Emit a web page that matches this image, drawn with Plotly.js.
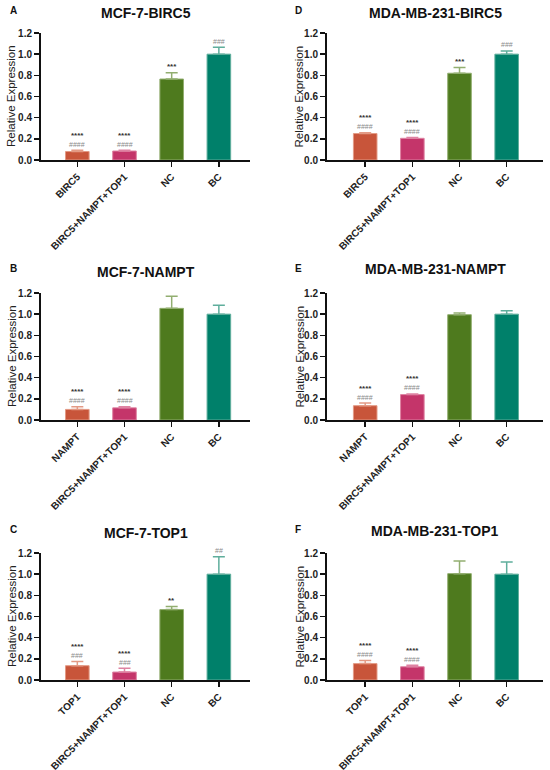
<!DOCTYPE html>
<html>
<head>
<meta charset="utf-8">
<script src="https://cdn.plot.ly/plotly-3.0.1.min.js"></script>
<style>html,body{margin:0;padding:0;background:#fff;}#chart{width:550px;height:770px;}</style>
</head>
<body>
<div id="chart"></div>
<script>
// ---- data ----
const panelLetters = ['A', 'B', 'C', 'D', 'E', 'F'];
const panelTitles = ['MCF-7-BIRC5', 'MCF-7-NAMPT', 'MCF-7-TOP1', 'MDA-MB-231-BIRC5', 'MDA-MB-231-NAMPT', 'MDA-MB-231-TOP1'];

const categoriesA = ['BIRC5', 'BIRC5+NAMPT+TOP1', 'NC', 'BC'];
const categoriesB = ['NAMPT', 'BIRC5+NAMPT+TOP1', 'NC', 'BC'];
const categoriesC = ['TOP1', 'BIRC5+NAMPT+TOP1', 'NC', 'BC'];
const categoriesD = ['BIRC5', 'BIRC5+NAMPT+TOP1', 'NC', 'BC'];
const categoriesE = ['NAMPT', 'BIRC5+NAMPT+TOP1', 'NC', 'BC'];
const categoriesF = ['TOP1', 'BIRC5+NAMPT+TOP1', 'NC', 'BC'];

const valuesA = [0.08, 0.085, 0.765, 1.0];
const valuesB = [0.10, 0.115, 1.055, 1.0];
const valuesC = [0.135, 0.075, 0.665, 1.0];
const valuesD = [0.25, 0.205, 0.82, 1.0];
const valuesE = [0.135, 0.24, 0.995, 1.0];
const valuesF = [0.155, 0.125, 1.005, 1.0];

const errorsA = [0.012, 0.008, 0.06, 0.065];
const errorsB = [0.025, 0.01, 0.115, 0.085];
const errorsC = [0.04, 0.035, 0.03, 0.165];
const errorsD = [0.008, 0.008, 0.055, 0.03];
const errorsE = [0.025, 0.006, 0.015, 0.032];
const errorsF = [0.03, 0.015, 0.12, 0.115];

const starsA = ['****', '****', '***', ''];
const starsB = ['****', '****', '', ''];
const starsC = ['****', '****', '**', ''];
const starsD = ['****', '****', '***', ''];
const starsE = ['****', '****', '', ''];
const starsF = ['****', '****', '', ''];

const hashesA = ['####', '####', '', '###'];
const hashesB = ['####', '####', '', ''];
const hashesC = ['###', '###', '', '##'];
const hashesD = ['####', '####', '', '###'];
const hashesE = ['####', '####', '', ''];
const hashesF = ['####', '####', '', ''];

const yTickVals = [0, 0.2, 0.4, 0.6, 0.8, 1.0, 1.2];
const yTickText = ['0.0', '0.2', '0.4', '0.6', '0.8', '1.0', '1.2'];
const yAxisLabel = 'Relative Expression';

// ---- styles ----
const barColors = ['#C8553A', '#C4356A', '#4E7A1E', '#00806A'];
const lightColors = ['#E39A85', '#DE82A2', '#92AE70', '#5FAE9C'];

const categories = [categoriesA, categoriesB, categoriesC, categoriesD, categoriesE, categoriesF];
const values = [valuesA, valuesB, valuesC, valuesD, valuesE, valuesF];
const errors = [errorsA, errorsB, errorsC, errorsD, errorsE, errorsF];
const stars = [starsA, starsB, starsC, starsD, starsE, starsF];
const hashes = [hashesA, hashesB, hashesC, hashesD, hashesE, hashesF];

const W = 550, H = 770;
const colX = [[41, 250], [327, 543]];
const colRange = [[-0.77, 3.66], [-0.81, 3.77]];
const rowY = [[33, 160], [293, 420], [553, 680]];
const titleY = [[13, 272, 533], [13, 269, 531]];
const letterY = [10, 269, 529];
const letterX = [8, 293];
const yTitleX = [11.5, 299];

const font = 'Liberation Sans, Arial, sans-serif';
const traces = [];
const annotations = [];
const layout = {
  width: W, height: H,
  margin: {l: 0, r: 0, t: 0, b: 0},
  paper_bgcolor: '#fff', plot_bgcolor: '#fff',
  showlegend: false,
  font: {family: font, color: '#222'}
};

for (let p = 0; p < 6; p++) {
  const col = p < 3 ? 0 : 1;
  const row = p % 3;
  const ax = p === 0 ? '' : String(p + 1);
  const xa = 'x' + ax, ya = 'y' + ax;
  for (let i = 0; i < 4; i++) {
    traces.push({
      type: 'bar',
      x: [categories[p][i]],
      y: [values[p][i]],
      xaxis: xa, yaxis: ya,
      width: 0.5,
      marker: {color: barColors[i], line: {color: lightColors[i], width: 1}},
      error_y: {type: 'data', array: [errors[p][i]], symmetric: false, arrayminus: [0],
                color: lightColors[i], thickness: 1.5, width: 6},
      hoverinfo: 'x+y'
    });
    const top = values[p][i] + errors[p][i];
    if (hashes[p][i]) {
      annotations.push({xref: xa, yref: ya, x: categories[p][i], y: top, yanchor: 'middle',
        yshift: 6, text: hashes[p][i], showarrow: false, font: {size: 7, color: '#8a8a8a', family: font}});
    }
    if (stars[p][i]) {
      annotations.push({xref: xa, yref: ya, x: categories[p][i], y: top, yanchor: 'middle',
        yshift: hashes[p][i] ? 15 : 6, text: stars[p][i], showarrow: false,
        font: {size: 8, color: '#333', family: font, weight: 'bold'}});
    }
  }
  const [x0, x1] = colX[col];
  const [y0, y1] = rowY[row];
  layout['xaxis' + ax] = {
    domain: [x0 / W, x1 / W], anchor: ya,
    type: 'category', range: colRange[col],
    showline: true, linecolor: '#111', linewidth: 2,
    ticks: 'outside', ticklen: 5, tickwidth: 1.5, tickcolor: '#111',
    tickangle: -45, tickfont: {size: 10, family: font, color: '#222', weight: 'bold'},
    showgrid: false, zeroline: false, fixedrange: true
  };
  layout['yaxis' + ax] = {
    domain: [1 - y1 / H, 1 - y0 / H], anchor: xa,
    range: [0, 1.2], tickmode: 'array', tickvals: yTickVals, ticktext: yTickText,
    showline: true, linecolor: '#111', linewidth: 2,
    ticks: 'outside', ticklen: 5, tickwidth: 1.5, tickcolor: '#111',
    tickfont: {size: 10, family: font, color: '#222', weight: 'bold'},
    showgrid: false, zeroline: false, fixedrange: true
  };
  annotations.push({xref: 'paper', yref: 'paper', x: yTitleX[col] / W, y: 1 - (y0 + y1) / 2 / H,
    xanchor: 'center', yanchor: 'middle', textangle: -90, text: yAxisLabel, showarrow: false,
    font: {size: 11.5, family: font, color: '#222'}});
  annotations.push({xref: 'paper', yref: 'paper', x: (x0 + x1) / 2 / W, y: 1 - titleY[col][row] / H,
    xanchor: 'center', yanchor: 'middle', text: panelTitles[p], showarrow: false,
    font: {size: 14, family: font, color: '#111', weight: 'bold'}});
  annotations.push({xref: 'paper', yref: 'paper', x: letterX[col] / W, y: 1 - letterY[row] / H,
    xanchor: 'left', yanchor: 'middle', text: panelLetters[p], showarrow: false,
    font: {size: 10, family: font, color: '#111', weight: 'bold'}});
}
layout.annotations = annotations;

Plotly.newPlot('chart', traces, layout, {displayModeBar: false, staticPlot: true});
</script>
</body>
</html>
